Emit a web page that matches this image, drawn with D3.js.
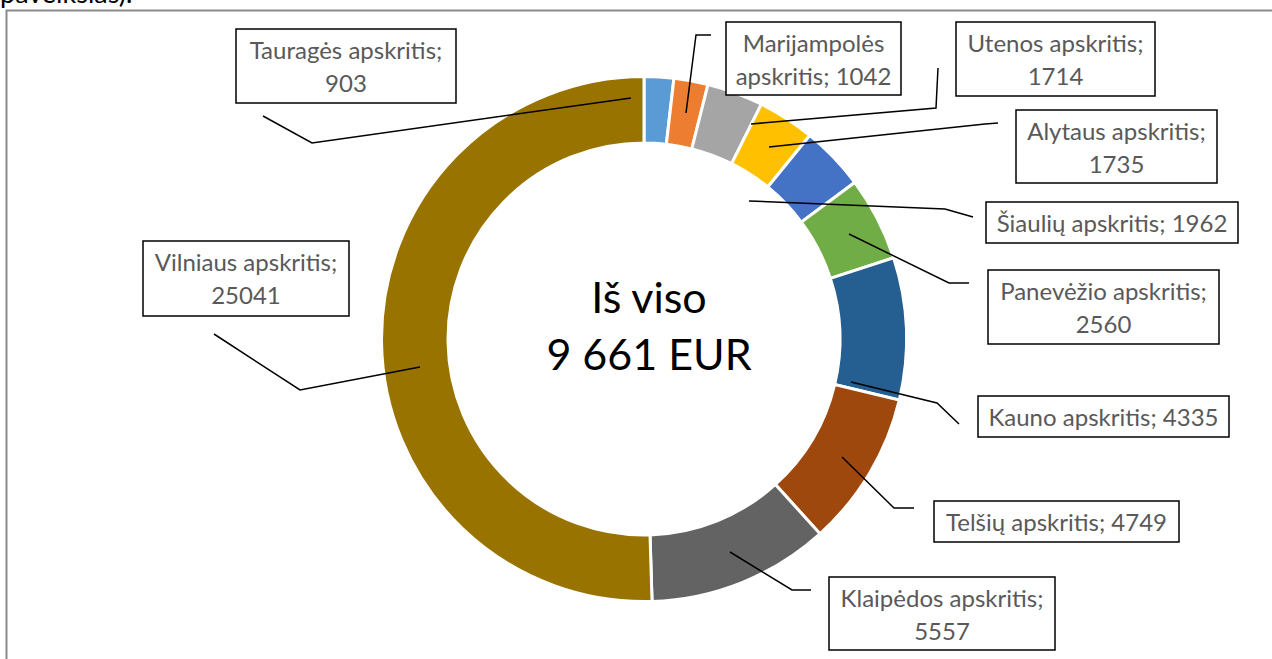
<!DOCTYPE html>
<html>
<head>
<meta charset="utf-8">
<script src="https://cdn.jsdelivr.net/npm/d3@7"></script>
<style>
  body { margin: 0; background: #fff; }
  svg { display: block; }
</style>
</head>
<body>
<svg id="chart"></svg>
<script>
// data
const names = ["Tauragės", "Marijampolės", "Utenos", "Alytaus", "Šiaulių", "Panevėžio", "Kauno", "Telšių", "Klaipėdos", "Vilniaus"];
const values = [903, 1042, 1714, 1735, 1962, 2560, 4335, 4749, 5557, 25041];
const colors = ["#5B9BD5", "#ED7D31", "#A5A5A5", "#FFC000", "#4472C4", "#70AD47", "#255E91", "#9E480E", "#636363", "#997300"];
const centerLines = ["Iš viso", "9 661 EUR"];
const captionTail = "paveikslas).";

// label boxes + leader lines (layout only)
const labelLayout = [
  { box: [236, 29, 220, 74], wrap: "value", leader: [[263, 116], [312, 143], [631, 98]] },
  { box: [726, 22, 175, 73], wrap: "name", leader: [[711, 35], [696, 35], [686, 113]] },
  { box: [956, 22, 199, 74], wrap: "value", leader: [[938, 68], [936, 108], [751, 124]] },
  { box: [1016, 110, 201, 73], wrap: "value", leader: [[998, 123], [985, 124], [769, 147]] },
  { box: [986, 202, 252, 41], wrap: "none", leader: [[973, 217], [945, 209], [749, 201]] },
  { box: [988, 270, 231, 74], wrap: "value", leader: [[969, 283], [949, 283], [849, 234]] },
  { box: [978, 396, 251, 41], wrap: "none", leader: [[959, 424], [937, 403], [851, 382]] },
  { box: [934, 501, 245, 41], wrap: "none", leader: [[914, 508], [894, 508], [842, 457]] },
  { box: [829, 577, 226, 73], wrap: "value", leader: [[811, 590], [792, 590], [730, 552]] },
  { box: [143, 241, 206, 75], wrap: "value", leader: [[214, 334], [300, 390], [420, 367]] }
];

const width = 1272, height = 659;
const cx = 644, cy = 339, outerR = 262.5, innerR = 196;
const font = "Lato, 'Open Sans', sans-serif";

const svg = d3.select("#chart")
  .attr("width", width)
  .attr("height", height);

// cut-off caption line of the page above the chart
svg.append("text")
  .attr("x", 0)
  .attr("y", 3)
  .style("font-family", font)
  .style("font-size", "27px")
  .attr("fill", "#000")
  .text(captionTail);

// chart frame
svg.append("rect")
  .attr("x", 6.5)
  .attr("y", 10.5)
  .attr("width", width)
  .attr("height", height)
  .attr("fill", "none")
  .attr("stroke", "#8a8a8a")
  .attr("stroke-width", 2);

const data = names.map((n, i) => ({ name: n, value: values[i], color: colors[i] }));

const pie = d3.pie()
  .value(d => d.value)
  .sort(null);

const arc = d3.arc()
  .innerRadius(innerR)
  .outerRadius(outerR);

const donut = svg.append("g")
  .attr("transform", `translate(${cx},${cy})`);

donut.selectAll("path")
  .data(pie(data))
  .join("path")
  .attr("d", arc)
  .attr("fill", d => d.data.color)
  .attr("stroke", "#fff")
  .attr("stroke-width", 3);

// center total
svg.append("g").selectAll("text")
  .data(centerLines)
  .join("text")
  .attr("x", 649)
  .attr("y", (d, i) => 313 + i * 57)
  .attr("text-anchor", "middle")
  .style("font-family", font)
  .style("font-size", "43px")
  .attr("fill", "#000")
  .text(d => d);

// leader lines
const line = d3.line();
svg.append("g").selectAll("path")
  .data(labelLayout)
  .join("path")
  .attr("d", d => line(d.leader))
  .attr("fill", "none")
  .attr("stroke", "#000")
  .attr("stroke-width", 1.5);

// label boxes
const labels = svg.append("g").selectAll("g")
  .data(data)
  .join("g");

labels.append("rect")
  .attr("x", (d, i) => labelLayout[i].box[0])
  .attr("y", (d, i) => labelLayout[i].box[1])
  .attr("width", (d, i) => labelLayout[i].box[2])
  .attr("height", (d, i) => labelLayout[i].box[3])
  .attr("fill", "#fff")
  .attr("stroke", "#000")
  .attr("stroke-width", 1.5);

function labelLines(d, wrap) {
  if (wrap === "value") return [`${d.name} apskritis;`, `${d.value}`];
  if (wrap === "name") return [d.name, `apskritis; ${d.value}`];
  return [`${d.name} apskritis; ${d.value}`];
}

labels.each(function(d, i) {
  const lay = labelLayout[i];
  const [bx, by, bw] = lay.box;
  d3.select(this).selectAll("text")
    .data(labelLines(d, lay.wrap))
    .join("text")
    .attr("x", bx + bw / 2)
    .attr("y", (t, j) => by + 30 + j * 33)
    .attr("text-anchor", "middle")
    .style("font-family", font)
    .style("font-size", "24px")
    .attr("fill", "#595959")
    .text(t => t);
});
</script>
</body>
</html>
